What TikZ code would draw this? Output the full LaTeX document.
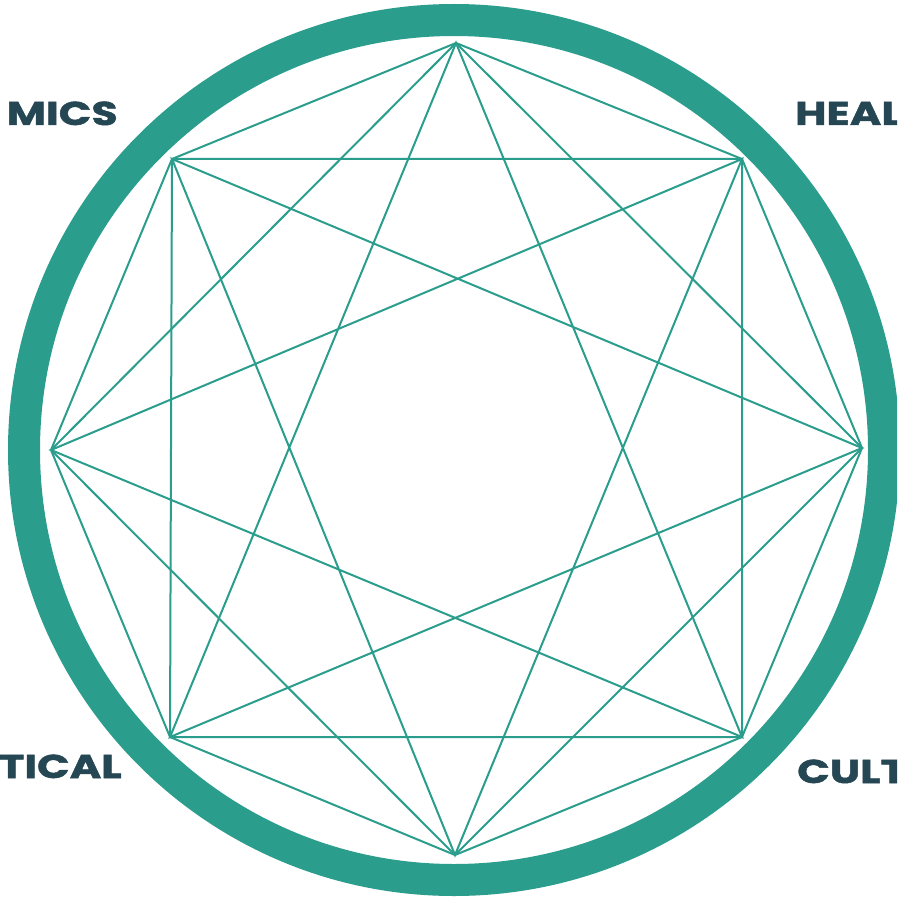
\documentclass[tikz,border=0pt]{standalone}
\usepackage{fontspec}
\usepackage{tikz}
\newfontfamily\labelfont{Poppins}[FakeStretch=1.3, FakeBold=1.5]
\definecolor{ringcolor}{RGB}{42,157,140}
\definecolor{labelcolor}{RGB}{37,70,83}

\begin{document}
\begin{tikzpicture}[
    x=1pt, y=-1pt,
    chord/.style={draw=ringcolor, line width=2pt, line join=miter},
    ring/.style={draw=ringcolor, line width=32pt},
    tag/.style={inner sep=0pt, text=labelcolor, font=\labelfont\bfseries\fontsize{33}{33}\selectfont}
]
    \useasboundingbox (0,0) rectangle (897,901);
    \clip (0,0) rectangle (897,901);

    % outer ring
    \node[draw=none, inner sep=0pt, minimum size=860pt, circle] (rim) at (454,450) {};
    \draw[ring] (rim.center) circle[radius=430];

    % octagon corners
    \coordinate (t)  at (456,43);
    \coordinate (ur) at (742,159);
    \coordinate (r)  at (862,448);
    \coordinate (lr) at (742,737);
    \coordinate (b)  at (455,855);
    \coordinate (ll) at (170,737);
    \coordinate (l)  at (51,450);
    \coordinate (ul) at (172,159);

    \draw[chord] (t) -- (ur) -- (r) -- (lr) -- (b) -- (ll) -- (l) -- (ul) -- cycle;
    \draw[chord] (ul) -- (ur) -- (lr) -- (ll) -- cycle;
    \draw[chord] (t) -- (r) -- (b) -- (l) -- cycle;
    \draw[chord] (t) -- (lr) -- (l) -- (ur) -- (b) -- (ul) -- (r) -- (ll) -- cycle;

    % labels
    \node[tag, anchor=base east] (econ) at (118,125) {MICS};
    \node[tag, anchor=base west] (health) at (795,125) {HEAL};
    \node[tag, anchor=base east] (political) at (122,778) {TICAL};
    \node[tag, anchor=base west] (cultural) at (797,783) {CULT};
\end{tikzpicture}
\end{document}
